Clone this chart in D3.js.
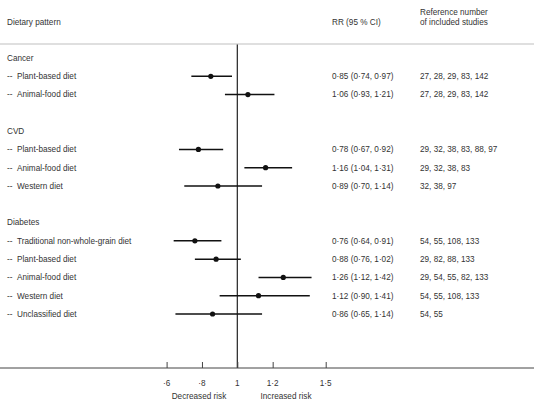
<!DOCTYPE html>
<html><head><meta charset="utf-8">
<script src="https://cdn.jsdelivr.net/npm/d3@7"></script>
<style>body{margin:0;background:#fff}svg{display:block}text{font-family:"Liberation Sans",Arial,sans-serif;font-size:8.2px;fill:#333}</style>
</head><body><svg width="534" height="400"></svg>
<script>
const rowLabels = ["Cancer","Plant-based diet","Animal-food diet","","CVD","Plant-based diet","Animal-food diet","Western diet","","Diabetes","Traditional non-whole-grain diet","Plant-based diet","Animal-food diet","Western diet","Unclassified diet"];
const isHeader = [true,false,false,false,true,false,false,false,false,true,false,false,false,false,false];
const rr =    [null,0.85,1.06,null,null,0.78,1.16,0.89,null,null,0.76,0.88,1.26,1.12,0.86];
const lower = [null,0.74,0.93,null,null,0.67,1.04,0.70,null,null,0.64,0.76,1.12,0.90,0.65];
const upper = [null,0.97,1.21,null,null,0.92,1.31,1.14,null,null,0.91,1.02,1.42,1.41,1.14];
const refs = ["","27, 28, 29, 83, 142","27, 28, 29, 83, 142","","","29, 32, 38, 83, 88, 97","29, 32, 38, 83","32, 38, 97","","","54, 55, 108, 133","29, 82, 88, 133","29, 54, 55, 82, 133","54, 55, 108, 133","54, 55"];
const tickValues = [0.6,0.8,1,1.2,1.5];
const tickLabels = ["·6","·8","1","1·2","1·5"];

const svg = d3.select("svg");
const fmt = v => d3.format(".2f")(v).replace(".", "·");
const x = d3.scaleLinear().domain([0.6,1.5]).range([166.6,325.7]);
const y = d3.scalePoint().domain(d3.range(rowLabels.length)).range([58,314]);

// headers
svg.append("text").attr("x",7).attr("y",22).attr("dy","0.35em").text("Dietary pattern");
svg.append("text").attr("x",332).attr("y",22).attr("dy","0.35em").text("RR (95 % CI)");
svg.append("text").attr("x",420).attr("y",12.5).attr("dy","0.35em").text("Reference number");
svg.append("text").attr("x",420).attr("y",22).attr("dy","0.35em").text("of included studies");
svg.append("line").attr("x1",0).attr("x2",534).attr("y1",44).attr("y2",44).attr("stroke","#d4d4d4").attr("stroke-width",1.5);

// reference vertical line
svg.append("line").attr("x1",x(1)).attr("x2",x(1)).attr("y1",44.5).attr("y2",368).attr("stroke","#222").attr("stroke-width",1.2);

const rows = svg.append("g").selectAll("g").data(d3.range(rowLabels.length)).join("g");
rows.each(function(i){
  const g = d3.select(this), yy = y(i);
  if (!rowLabels[i]) return;
  if (isHeader[i]) {
    g.append("text").attr("x",7).attr("y",yy).attr("dy","0.35em").text(rowLabels[i]);
    return;
  }
  g.append("text").attr("x",7).attr("y",yy).attr("dy","0.35em").text("--");
  g.append("text").attr("x",17).attr("y",yy).attr("dy","0.35em").text(rowLabels[i]);
  g.append("line").attr("x1",x(lower[i])).attr("x2",x(upper[i])).attr("y1",yy).attr("y2",yy).attr("stroke","#111").attr("stroke-width",1.5);
  g.append("circle").attr("cx",x(rr[i])).attr("cy",yy).attr("r",2.6).attr("fill","#111");
  g.append("text").attr("x",332).attr("y",yy).attr("dy","0.35em").text(`${fmt(rr[i])} (${fmt(lower[i])}, ${fmt(upper[i])})`);
  g.append("text").attr("x",420).attr("y",yy).attr("dy","0.35em").text(refs[i]);
});

// axis
const axisY = 368;
svg.append("line").attr("x1",0).attr("x2",534).attr("y1",axisY).attr("y2",axisY).attr("stroke","#444").attr("stroke-width",1);
const ax = d3.axisTop(x).tickValues(tickValues).tickSize(6).tickFormat("");
const axg = svg.append("g").attr("transform",`translate(0,${axisY})`).call(ax);
axg.select(".domain").remove();
axg.selectAll(".tick line").attr("stroke","#444");
svg.append("g").selectAll("text").data(tickValues).join("text")
  .attr("x",d=>x(d)).attr("y",383).attr("dy","0.35em").attr("text-anchor","middle")
  .text((d,i)=>tickLabels[i]);
svg.append("text").attr("x",199).attr("y",396.5).attr("dy","0.35em").attr("text-anchor","middle").text("Decreased risk");
svg.append("text").attr("x",286).attr("y",396.5).attr("dy","0.35em").attr("text-anchor","middle").text("Increased risk");
</script></body></html>
